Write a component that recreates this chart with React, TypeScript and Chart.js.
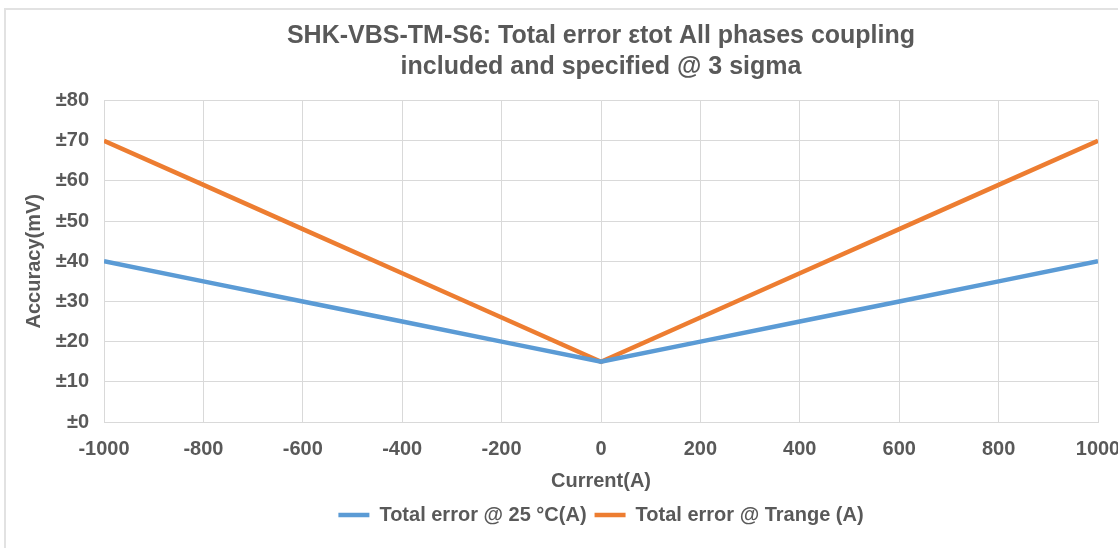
import React, { useEffect, useRef } from "react";
import { Chart, registerables } from "chart.js";

Chart.register(...registerables);

const currents = [-1000, -800, -600, -400, -200, 0, 200, 400, 600, 800, 1000];
const err25 = [40, 35, 30, 25, 20, 15, 20, 25, 30, 35, 40];
const errTrange = [70, 59, 48, 37, 26, 15, 26, 37, 48, 59, 70];
const seriesNames = ["Total error @ 25 °C(A)", "Total error @ Trange (A)"];
const titleLines = ["SHK-VBS-TM-S6: Total error εtot All phases coupling", "included and specified @ 3 sigma"];
const xTitle = "Current(A)";
const yTitle = "Accuracy(mV)";

const FONT = "'Liberation Sans', Arial, sans-serif";
const TEXT = "#595959";
const GRID = "#D9D9D9";

export default function App() {
  const ref = useRef<HTMLCanvasElement | null>(null);
  useEffect(() => {
    if (!ref.current) return;
    const chart = new Chart(ref.current, {
      type: "line",
      data: {
        datasets: [
          {
            label: seriesNames[0],
            data: currents.map((x, i) => ({ x, y: err25[i] })),
            borderColor: "#5B9BD5",
            backgroundColor: "#5B9BD5",
            borderWidth: 4.5,
            pointRadius: 0,
            tension: 0,
          },
          {
            label: seriesNames[1],
            data: currents.map((x, i) => ({ x, y: errTrange[i] })),
            borderColor: "#ED7D31",
            backgroundColor: "#ED7D31",
            borderWidth: 4.5,
            pointRadius: 0,
            tension: 0,
          },
        ],
      },
      options: {
        responsive: false,
        animation: false,
        layout: { padding: { left: 10, right: 42, top: 10, bottom: 13 } },
        plugins: {
          tooltip: { enabled: false },
          title: {
            display: true,
            fullSize: false,
            text: titleLines,
            color: TEXT,
            font: { family: FONT, size: 25, weight: "bold", lineHeight: 1.25 },
            padding: { top: 10, bottom: 18 },
          },
          legend: {
            display: true,
            position: "bottom",
            fullSize: false,
            labels: {
              usePointStyle: true,
              pointStyle: "line",
              pointStyleWidth: 31,
              color: TEXT,
              font: { family: FONT, size: 20, weight: "bold" },
              padding: 8,
            },
          },
        },
        scales: {
          x: {
            type: "linear",
            min: -1000,
            max: 1000,
            grid: { color: GRID, lineWidth: 1, drawTicks: false },
            border: { color: GRID },
            afterFit: (scale: any) => {
              scale.height = 75;
            },
            ticks: {
              stepSize: 200,
              padding: 15,
              color: TEXT,
              font: { family: FONT, size: 20, weight: "bold" },
              maxRotation: 0,
              callback: (v: any) => String(v),
            },
            title: {
              display: true,
              text: xTitle,
              color: TEXT,
              font: { family: FONT, size: 20, weight: "bold" },
              padding: { top: 7, bottom: 4 },
            },
          },
          y: {
            min: 0,
            max: 80,
            grid: { color: GRID, lineWidth: 1, drawTicks: false },
            border: { color: GRID },
            afterFit: (scale: any) => {
              scale.width = 94;
            },
            ticks: {
              stepSize: 10,
              padding: 15,
              color: TEXT,
              font: { family: FONT, size: 20, weight: "bold" },
              callback: (v: any) => "±" + v,
            },
            title: {
              display: true,
              text: yTitle,
              color: TEXT,
              font: { family: FONT, size: 20, weight: "bold" },
              padding: { top: 12, bottom: 9 },
            },
          },
        },
      },
    });
    return () => chart.destroy();
  }, []);

  return (
    <div style={{ position: "absolute", left: 0, top: 0, width: 1118, height: 548, overflow: "hidden", background: "#fff" }}>
      <div style={{ position: "absolute", left: 4, top: 8, width: 1200, height: 600, borderTop: "2px solid #E2E2E2", borderLeft: "2px solid #E2E2E2", boxSizing: "border-box" }} />
      <canvas ref={ref} width={1140} height={548} style={{ position: "absolute", left: 0, top: 0, width: 1140, height: 548 }} />
    </div>
  );
}
